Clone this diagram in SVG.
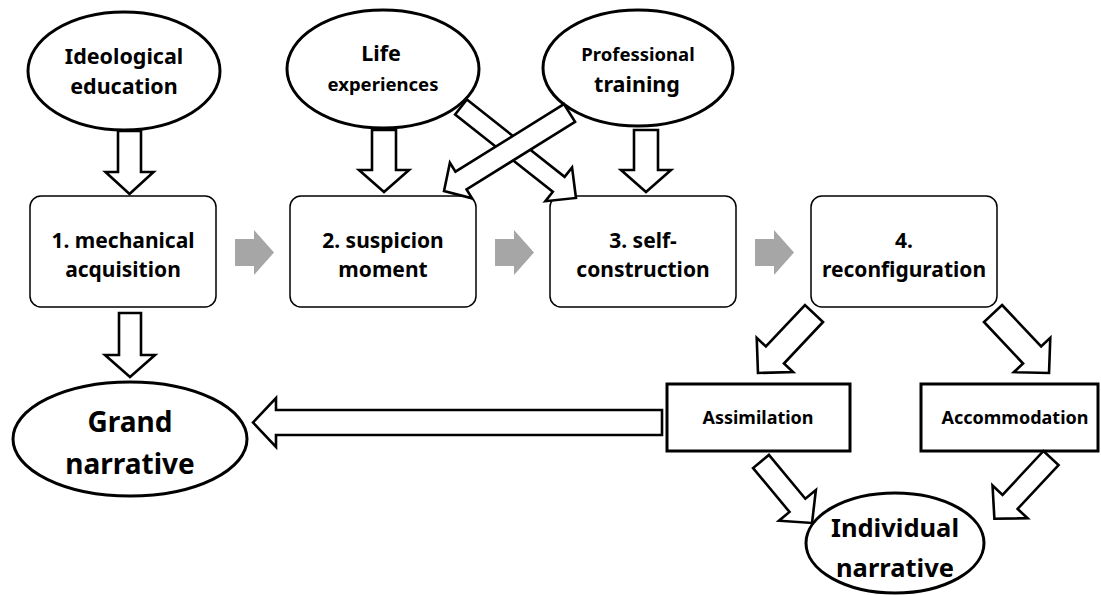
<svg xmlns="http://www.w3.org/2000/svg" width="1101" height="595" viewBox="0 0 1101 595">
<style>
.ell{fill:#fff;stroke:#000;stroke-width:3}
.box{fill:#fff;stroke:#000;stroke-width:1.5}
.sq{fill:#fff;stroke:#000;stroke-width:3}
.blk{fill:#fff;stroke:#000;stroke-width:2.6;stroke-linejoin:miter}
.gray{fill:#a6a6a6;stroke:none}
text{font-family:"Noto Sans","Open Sans","Liberation Sans",sans-serif;font-weight:bold;fill:#000;text-anchor:middle}
.t21{font-size:21.5px}
.tb{font-size:21px}
.t18{font-size:18.5px}
.t16{font-size:18px}
.t28{font-size:28px}
.t26{font-size:25.5px}
</style>
<rect width="1101" height="595" fill="#fff"/>
<g id="ideological">
<ellipse class="ell" cx="124" cy="71" rx="96" ry="59"/>
<text class="t21" x="124" y="64">Ideological</text>
<text class="t21" x="124" y="94">education</text>
</g>
<g id="life">
<ellipse class="ell" cx="383" cy="69" rx="96" ry="59"/>
<text class="t21" x="381" y="61">Life</text>
<text class="t18" x="383" y="91">experiences</text>
</g>
<g id="professional">
<ellipse class="ell" cx="638" cy="68" rx="95" ry="58"/>
<text class="t18" x="638" y="61">Professional</text>
<text class="t21" x="637" y="92">training</text>
</g>
<g id="box1">
<rect class="box" x="30" y="196" width="186" height="111" rx="11"/>
<text class="tb" x="123" y="248">1. mechanical</text>
<text class="tb" x="123" y="277">acquisition</text>
</g>
<g id="box2">
<rect class="box" x="290" y="196" width="186" height="111" rx="11"/>
<text class="tb" x="383" y="248">2. suspicion</text>
<text class="tb" x="383" y="277">moment</text>
</g>
<g id="box3">
<rect class="box" x="550" y="196" width="186" height="111" rx="11"/>
<text class="tb" x="643" y="248">3. self-</text>
<text class="tb" x="643" y="277">construction</text>
</g>
<g id="box4">
<rect class="box" x="811" y="196" width="186" height="111" rx="11"/>
<text class="tb" x="904" y="248">4.</text>
<text class="tb" x="904" y="277">reconfiguration</text>
</g>
<g id="grand">
<ellipse class="ell" cx="130" cy="439" rx="117" ry="57"/>
<text class="t28" x="130" y="432">Grand</text>
<text class="t28" x="130" y="474">narrative</text>
</g>
<g id="assimilation">
<rect class="sq" x="667" y="384" width="183" height="67"/>
<text class="t16" x="758" y="424">Assimilation</text>
</g>
<g id="accommodation">
<rect class="sq" x="921" y="384" width="177" height="67"/>
<text class="t16" x="1015" y="424">Accommodation</text>
</g>
<g id="individual">
<ellipse class="ell" cx="895" cy="543" rx="89" ry="50"/>
<text class="t26" x="895" y="537">Individual</text>
<text class="t26" x="895" y="577">narrative</text>
</g>
<g id="connectors">
<polygon class="gray" points="235,239 254,239 254,230 274,252.5 254,275 254,266 235,266"/>
<polygon class="gray" points="495,239 514,239 514,230 534,252.5 514,275 514,266 495,266"/>
<polygon class="gray" points="755,239 774,239 774,230 794,252.5 774,275 774,266 755,266"/>
<polygon class="blk" transform="translate(129.5,131) rotate(90)" points="0,-11.5 41,-11.5 41,-24 63,0 41,24 41,11.5 0,11.5"/>
<polygon class="blk" transform="translate(384,130) rotate(90)" points="0,-12 40,-12 40,-25 62,0 40,25 40,12 0,12"/>
<polygon class="blk" transform="translate(646,130) rotate(90)" points="0,-12 40,-12 40,-25 62,0 40,25 40,12 0,12"/>
<polygon class="blk" transform="translate(130,313) rotate(90)" points="0,-11 42,-11 42,-25 64,0 42,25 42,11 0,11"/>
<polygon class="blk" transform="translate(461,107) rotate(38.35)" points="0,-9.5 124.6,-9.5 124.6,-21.5 146.6,0 124.6,21.5 124.6,9.5 0,9.5"/>
<polygon class="blk" transform="translate(569.5,113) rotate(148.1)" points="0,-10.5 127.8,-10.5 127.8,-21 147.8,0 127.8,21 127.8,10.5 0,10.5"/>
<polygon class="blk" transform="translate(814,313.5) rotate(133.3)" points="0,-12.4 57,-12.4 57,-25 81.7,0 57,25 57,12.4 0,12.4"/>
<polygon class="blk" transform="translate(993,313.5) rotate(46.7)" points="0,-12.4 57,-12.4 57,-25 81.7,0 57,25 57,12.4 0,12.4"/>
<polygon class="blk" transform="translate(761,461.5) rotate(50.3)" points="0,-10.3 57,-10.3 57,-24 79.9,0 57,24 57,10.3 0,10.3"/>
<polygon class="blk" transform="translate(1051,458) rotate(133)" points="0,-10.3 60,-10.3 60,-24 83,0 60,24 60,10.3 0,10.3"/>
<polygon class="blk" transform="translate(662,422.5) rotate(180)" points="0,-12.5 386,-12.5 386,-24.5 409,0 386,24.5 386,12.5 0,12.5"/>
</g>
</svg>
